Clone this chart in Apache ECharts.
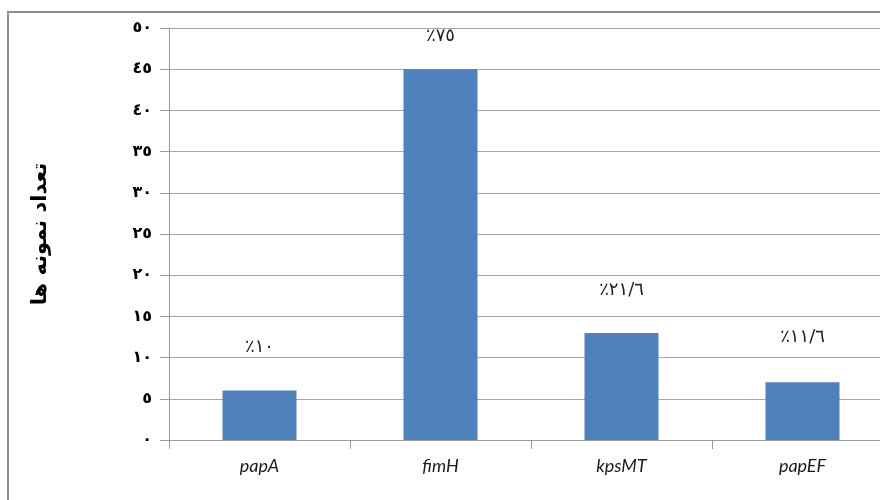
<!DOCTYPE html>
<html>
<head>
<meta charset="utf-8">
<script src="https://cdn.jsdelivr.net/npm/echarts@6/dist/echarts.min.js"></script>
<style>
html,body{margin:0;padding:0;background:#fff;overflow:hidden;width:880px;height:500px;}
#c{width:900px;height:500px;}
</style>
</head>
<body>
<div id="c"></div>
<script>
var categories = ['papA', 'fimH', 'kpsMT', 'papEF'];
var counts = [6, 45, 13, 7];
var percentLabels = ['٪١٠', '٪٧٥', '٪٢١/٦', '٪١١/٦'];
var yTickValues = [0, 5, 10, 15, 20, 25, 30, 35, 40, 45, 50];
var yTickLabels = ['٠', '٥', '١٠', '١٥', '٢٠', '٢٥', '٣٠', '٣٥', '٤٠', '٤٥', '٥٠'];
var yTitle = 'تعداد نمونه ها';

var labelGaps = [34, 24, 34, 36];

var chart = echarts.init(document.getElementById('c'));
chart.setOption({
  animation: false,
  backgroundColor: '#ffffff',
  grid: { left: 169, top: 28, bottom: 60, right: 7, containLabel: false },
  xAxis: {
    type: 'category',
    data: categories,
    boundaryGap: true,
    axisLine: { show: true, lineStyle: { color: '#9a9a9a', width: 1 } },
    axisTick: { show: true, length: 9, lineStyle: { color: '#9a9a9a' } },
    axisLabel: {
      margin: 17,
      fontFamily: 'Lato, "Open Sans", sans-serif',
      fontStyle: 'italic',
      fontSize: 18,
      color: '#1a1a1a'
    },
    splitLine: { show: false }
  },
  yAxis: {
    type: 'value',
    min: 0,
    max: 50,
    interval: 5,
    name: yTitle,
    nameLocation: 'middle',
    nameRotate: 90,
    nameGap: 118,
    nameTextStyle: {
      fontFamily: '"DejaVu Sans", sans-serif',
      fontWeight: 'bold',
      fontSize: 21,
      color: '#000'
    },
    axisLine: { show: true, lineStyle: { color: '#9a9a9a', width: 1 } },
    axisTick: { show: true, length: 9, lineStyle: { color: '#9a9a9a' } },
    axisLabel: {
      margin: 17,
      fontFamily: '"DejaVu Sans", sans-serif',
      fontWeight: 'bold',
      fontSize: 16,
      color: '#000',
      formatter: function (v) {
        var i = yTickValues.indexOf(v);
        return i >= 0 ? yTickLabels[i] : '';
      }
    },
    splitLine: { show: true, lineStyle: { color: '#a6a6a6', width: 1 } }
  },
  series: [{
    type: 'bar',
    barWidth: 74,
    itemStyle: { color: '#4f81bd' },
    data: counts.map(function (v, i) {
      return {
        value: v,
        label: {
          show: true,
          position: 'top',
          distance: labelGaps[i],
          formatter: percentLabels[i],
          fontFamily: '"DejaVu Sans", sans-serif',
          fontSize: 18,
          color: '#222'
        }
      };
    })
  }],
  graphic: [{
    type: 'rect',
    shape: { x: 8, y: 12, width: 950, height: 600 },
    style: { fill: 'none', stroke: '#8c8c8c', lineWidth: 2 },
    silent: true,
    z: -1
  }]
});
</script>
</body>
</html>
